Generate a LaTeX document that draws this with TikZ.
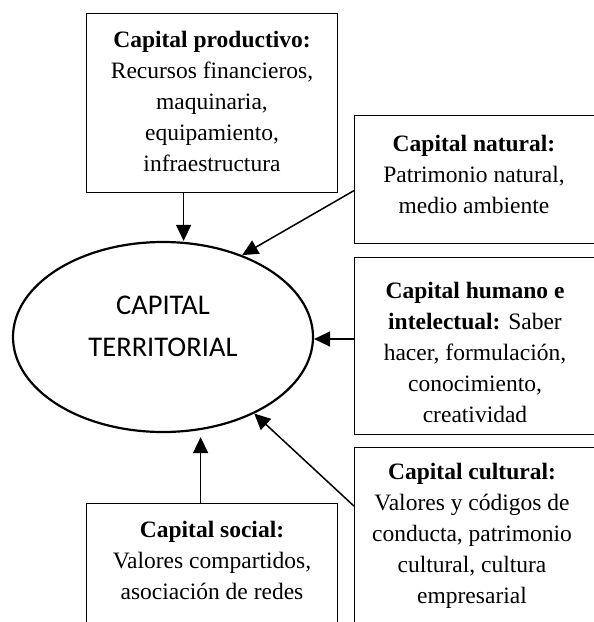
\documentclass[tikz,border=0pt]{standalone}
\usepackage{fontspec}
\setmainfont{Liberation Serif}
\newfontfamily\sansf{Carlito}
\usetikzlibrary{shapes.geometric,arrows.meta}
\begin{document}
\begin{tikzpicture}[x=1pt,y=-1pt,
  boxst/.style={draw,line width=1.2pt,rectangle,inner sep=0pt,anchor=north west},
  txt/.style={align=center,font=\fontsize{23.5}{31}\selectfont,inner sep=0pt},
  arr/.style={line width=1.5pt,-{Triangle[length=16pt,width=15pt]}}]
\useasboundingbox (0,0) rectangle (594,622);
% boxes
\node[boxst,minimum width=251pt,minimum height=179pt] (prod) at (86,13) {};
\node[boxst,minimum width=260pt,minimum height=128pt] (nat) at (354,115) {};
\node[boxst,minimum width=260pt,minimum height=177pt] (hum) at (354,257) {};
\node[boxst,minimum width=260pt,minimum height=200pt] (cult) at (354,447) {};
\node[boxst,minimum width=251pt,minimum height=150pt] (soc) at (86,503) {};
% texts
\node[txt] (tprod) at (212,101) {\textbf{Capital productivo:}\\Recursos financieros,\\maquinaria,\\equipamiento,\\infraestructura};
\node[txt] (tnat) at (474,174) {\textbf{Capital natural:}\\Patrimonio natural,\\medio ambiente};
\node[txt] (thum) at (475,352) {\textbf{Capital humano e}\\\textbf{intelectual:} Saber\\hacer, formulación,\\conocimiento,\\creatividad};
\node[txt] (tcult) at (472,536) {\textbf{Capital cultural:}\\Valores y códigos de\\conducta, patrimonio\\cultural, cultura\\empresarial};
\node[txt] (tsoc) at (212,560) {\textbf{Capital social:}\\Valores compartidos,\\asociación de redes};
% ellipse
\node[draw,ellipse,line width=2.2pt,minimum width=300pt,minimum height=190pt,inner sep=0pt] (ell) at (163,337) {};
\node[align=center,inner sep=0pt,font=\sansf\fontsize{28.5}{42}\selectfont] (tell) at (163,326) {CAPITAL\\TERRITORIAL};
% connectors
\coordinate (p1) at ([xshift=-28.5pt]prod.south);
\draw[arr] (p1) -- (p1 |- ell.north);
\draw[arr] ([yshift=-11pt]nat.west) -- (ell.46.5);
\draw[arr] ([yshift=-2pt]hum.west |- ell.east) -- ([yshift=-2pt]ell.east);
\draw[arr] ([yshift=41.5pt]cult.west) -- (ell.-40.2);
\coordinate (s1) at ([xshift=-11.5pt]soc.north);
\draw[arr] (s1) -- ([yshift=-4pt]s1 |- ell.south);
\end{tikzpicture}
\end{document}
